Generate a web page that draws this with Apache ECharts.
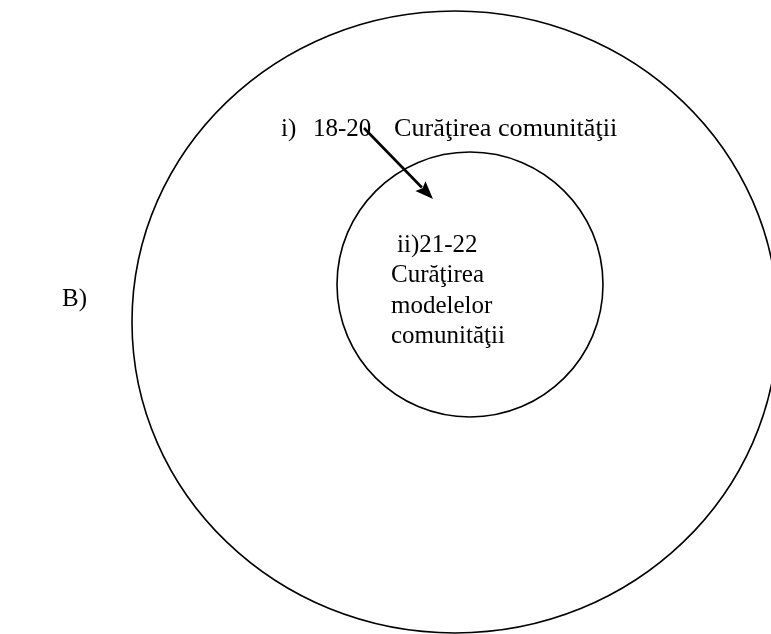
<!DOCTYPE html>
<html>
<head>
<meta charset="utf-8">
<title>Diagramă</title>
<script src="https://cdn.jsdelivr.net/npm/echarts@6/dist/echarts.min.js"></script>
<style>
  html, body { margin: 0; padding: 0; background: #fff; }
  #chart-target { width: 771px; height: 634px; }
</style>
</head>
<body>
<div id="chart-target"></div>
<script>
  // cercuri: centru x, centru y, raza x, raza y (unitati de axa)
  const circles = [
    [455, 322, 323, 311],
    [470, 284.5, 133, 132.5]
  ];
  // sageata: de la (x1, y1) la (x2, y2)
  const arrows = [
    [364, 128, 433, 199]
  ];
  const labelTexts = ['B)', 'i)', '18-20', 'Curăţirea comunităţii', 'ii)21-22', 'Curăţirea', 'modelelor', 'comunităţii'];
  const labelAnchors = [
    [62, 299], [281, 129], [313, 129], [394, 129],
    [397, 245], [391, 275.5], [391, 306], [391, 336.5]
  ];
  const labelSizes = [25, 25, 25, 26.2, 25, 25, 25, 25];

  const font = '"Liberation Serif", "Times New Roman", serif';
  let myChart = echarts.init(document.getElementById('chart-target'));
  myChart.setOption({
    animation: false,
    grid: { left: 0, right: 0, top: 0, bottom: 0 },
    xAxis: { type: 'value', min: 0, max: 771, show: false },
    yAxis: { type: 'value', min: 0, max: 634, inverse: true, show: false },
    series: [
      {
        type: 'custom',
        data: circles,
        renderItem: function (params, api) {
          let c = api.coord([api.value(0), api.value(1)]);
          let s = api.size([api.value(2), api.value(3)]);
          return {
            type: 'ellipse',
            shape: { cx: c[0], cy: c[1], rx: s[0], ry: s[1] },
            style: { fill: 'none', stroke: '#000', lineWidth: 1.6 }
          };
        }
      },
      {
        type: 'custom',
        data: arrows,
        renderItem: function (params, api) {
          let a = api.coord([api.value(0), api.value(1)]);
          let b = api.coord([api.value(2), api.value(3)]);
          let dx = b[0] - a[0], dy = b[1] - a[1];
          let len = Math.sqrt(dx * dx + dy * dy);
          let ux = dx / len, uy = dy / len;
          let head = 18, half = 7;
          let bx = b[0] - ux * head, by = b[1] - uy * head;
          return {
            type: 'group',
            children: [
              {
                type: 'line',
                shape: { x1: a[0], y1: a[1], x2: bx + ux * 2, y2: by + uy * 2 },
                style: { stroke: '#000', lineWidth: 2.6 }
              },
              {
                type: 'polygon',
                shape: {
                  points: [
                    [b[0], b[1]],
                    [bx - uy * half, by + ux * half],
                    [bx + ux * 3, by + uy * 3],
                    [bx + uy * half, by - ux * half]
                  ]
                },
                style: { fill: '#000' }
              }
            ]
          };
        }
      },
      {
        type: 'custom',
        data: labelAnchors,
        renderItem: function (params, api) {
          let p = api.coord([api.value(0), api.value(1)]);
          return {
            type: 'text',
            x: p[0],
            y: p[1],
            style: {
              text: labelTexts[params.dataIndex],
              fontFamily: font,
              fontSize: labelSizes[params.dataIndex],
              fill: '#000',
              align: 'left',
              verticalAlign: 'middle'
            }
          };
        }
      }
    ]
  });
</script>
</body>
</html>
